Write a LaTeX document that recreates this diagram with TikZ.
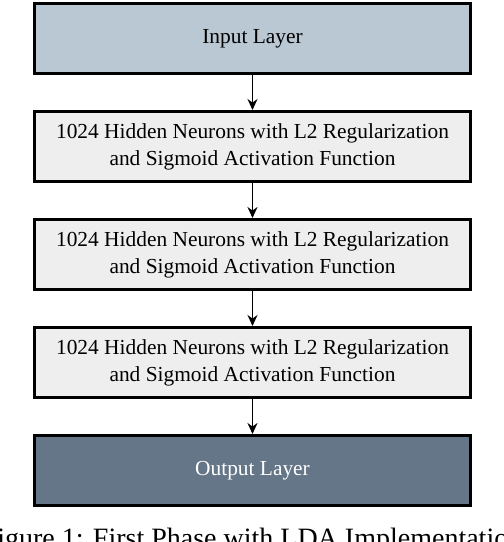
\documentclass[tikz,border=0pt]{standalone}
\usepackage{fontspec}
\setmainfont{Liberation Serif}
\usepackage{xcolor}
\usetikzlibrary{arrows.meta,positioning}

\definecolor{inputcol}{HTML}{BAC8D3}
\definecolor{hiddencol}{HTML}{EEEEEE}
\definecolor{outputcol}{HTML}{647687}

\begin{document}
\begin{tikzpicture}[
    x=1pt, y=1pt,
    node distance=35pt,
    box/.style={rectangle, draw, line width=3pt, align=center, minimum width=436pt, minimum height=70pt, inner sep=0pt, font=\fontsize{21.4}{27}\selectfont},
    arrow/.style={->, line width=1.8pt, >={Stealth[length=11pt,width=10pt]}}
]
\useasboundingbox (0,0) rectangle (504,-542);
\clip (0,0) rectangle (504,-542);

% Input Layer
\node[box, fill=inputcol] (input) at (252.5,-38.5) {Input Layer};

% Hidden Layers
\node[box, fill=hiddencol, below=of input] (hid1) {1024 Hidden Neurons with L2 Regularization \\ and Sigmoid Activation Function};
\node[box, fill=hiddencol, below=of hid1] (hid2) {1024 Hidden Neurons with L2 Regularization \\ and Sigmoid Activation Function};
\node[box, fill=hiddencol, below=of hid2] (hid3) {1024 Hidden Neurons with L2 Regularization \\ and Sigmoid Activation Function};

% Output Layer
\node[box, fill=outputcol, text=white, below=of hid3] (output) {Output Layer};

% Arrows
\draw[arrow] (input) -- (hid1);
\draw[arrow] (hid1) -- (hid2);
\draw[arrow] (hid2) -- (hid3);
\draw[arrow] (hid3) -- (output);

% Caption
\node[anchor=base, font=\fontsize{28}{32}\selectfont] (caption) at (252,-547) {Figure 1: First Phase with LDA Implementation};

\end{tikzpicture}
\end{document}
